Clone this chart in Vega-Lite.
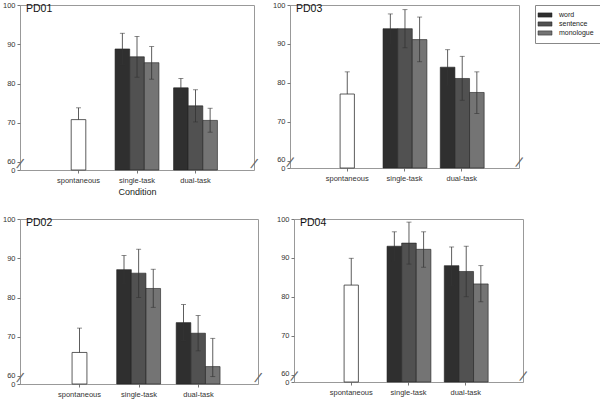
{
  "$schema": "https://vega.github.io/schema/vega-lite/v6.json",
  "padding": {"left": 1, "top": 0, "right": 2, "bottom": 2},
  "datasets": {
    "d": [
      {"p": "PD01", "c": "spontaneous", "t": "none", "m": 70.8, "lo": null, "hi": 73.8},
      {"p": "PD01", "c": "single-task", "t": "word", "m": 88.8, "lo": 84.8, "hi": 92.8},
      {"p": "PD01", "c": "single-task", "t": "sentence", "m": 86.8, "lo": 81.6, "hi": 92.0},
      {"p": "PD01", "c": "single-task", "t": "monologue", "m": 85.3, "lo": 81.1, "hi": 89.4},
      {"p": "PD01", "c": "dual-task", "t": "word", "m": 78.9, "lo": 76.4, "hi": 81.3},
      {"p": "PD01", "c": "dual-task", "t": "sentence", "m": 74.3, "lo": 70.2, "hi": 78.4},
      {"p": "PD01", "c": "dual-task", "t": "monologue", "m": 70.6, "lo": 67.6, "hi": 73.7},
      {"p": "PD03", "c": "spontaneous", "t": "none", "m": 77.1, "lo": null, "hi": 82.8},
      {"p": "PD03", "c": "single-task", "t": "word", "m": 93.9, "lo": 90.0, "hi": 97.7},
      {"p": "PD03", "c": "single-task", "t": "sentence", "m": 93.9, "lo": 89.0, "hi": 98.8},
      {"p": "PD03", "c": "single-task", "t": "monologue", "m": 91.1, "lo": 85.4, "hi": 96.9},
      {"p": "PD03", "c": "dual-task", "t": "word", "m": 84.0, "lo": 79.4, "hi": 88.5},
      {"p": "PD03", "c": "dual-task", "t": "sentence", "m": 81.1, "lo": 75.5, "hi": 86.8},
      {"p": "PD03", "c": "dual-task", "t": "monologue", "m": 77.5, "lo": 72.1, "hi": 82.8},
      {"p": "PD02", "c": "spontaneous", "t": "none", "m": 66.0, "lo": null, "hi": 72.2},
      {"p": "PD02", "c": "single-task", "t": "word", "m": 87.1, "lo": 83.6, "hi": 90.7},
      {"p": "PD02", "c": "single-task", "t": "sentence", "m": 86.2, "lo": 80.0, "hi": 92.3},
      {"p": "PD02", "c": "single-task", "t": "monologue", "m": 82.3, "lo": 77.5, "hi": 87.2},
      {"p": "PD02", "c": "dual-task", "t": "word", "m": 73.6, "lo": 69.0, "hi": 78.2},
      {"p": "PD02", "c": "dual-task", "t": "sentence", "m": 70.9, "lo": 66.4, "hi": 75.4},
      {"p": "PD02", "c": "dual-task", "t": "monologue", "m": 62.4, "lo": 55.2, "hi": 69.6},
      {"p": "PD04", "c": "spontaneous", "t": "none", "m": 83.0, "lo": null, "hi": 89.9},
      {"p": "PD04", "c": "single-task", "t": "word", "m": 93.0, "lo": 89.2, "hi": 96.7},
      {"p": "PD04", "c": "single-task", "t": "sentence", "m": 93.8, "lo": 88.4, "hi": 99.2},
      {"p": "PD04", "c": "single-task", "t": "monologue", "m": 92.2, "lo": 87.6, "hi": 96.7},
      {"p": "PD04", "c": "dual-task", "t": "word", "m": 88.0, "lo": 82.8, "hi": 92.8},
      {"p": "PD04", "c": "dual-task", "t": "sentence", "m": 86.5, "lo": 80.0, "hi": 93.0},
      {"p": "PD04", "c": "dual-task", "t": "monologue", "m": 83.3, "lo": 78.7, "hi": 88.0}
    ],
    "brk": [{"bx": 0}, {"bx": 1}]
  },
  "data": {"name": "d"},
  "vconcat": [
    {
      "hconcat": [
        {
          "width": 234, "height": 165,
          "title": {"text": "PD01"},
          "layer": [
            {
              "transform": [{"filter": "datum.p == 'PD01'"}],
              "encoding": {"x": {"field": "c", "type": "nominal", "scale": {"domain": ["spontaneous", "single-task", "dual-task"], "paddingInner": 0.25, "paddingOuter": 0.625}, "axis": {"title": "Condition"}}},
              "layer": [
                {"transform": [{"filter": "datum.c != 'spontaneous'"}], "mark": {"type": "bar", "stroke": "#1e1e1e", "strokeWidth": 0.6},
                 "encoding": {"xOffset": {"field": "t", "type": "nominal", "scale": {"domain": ["word", "sentence", "monologue"]}},
                  "y": {"field": "m", "type": "quantitative", "scale": {"domain": [0, 60, 100], "range": [165, 157, 0], "nice": false, "zero": false}, "axis": {"values": [0, 60, 70, 80, 90, 100], "tickCount": 12, "labelOverlap": false, "labelOffset": {"condition": [{"test": "datum.value == 0", "value": 0.5}, {"test": "datum.value == 60", "value": -1}], "value": 0}}},
                  "color": {"field": "t", "type": "nominal", "scale": {"domain": ["word", "sentence", "monologue"], "range": ["#2f2f2f", "#515151", "#747474"]}, "legend": {"title": null}}}},
                {"transform": [{"filter": "datum.c == 'spontaneous'"}], "mark": {"type": "bar", "fill": "white", "stroke": "#333", "strokeWidth": 0.8, "width": {"band": 0.3333}}, "encoding": {"y": {"field": "m", "type": "quantitative"}}},
                {"transform": [{"filter": "datum.c != 'spontaneous'"}], "mark": {"type": "rule", "color": "#333", "strokeWidth": 0.8}, "encoding": {"xOffset": {"field": "t", "type": "nominal"}, "y": {"field": "lo", "type": "quantitative"}, "y2": {"field": "hi"}}},
                {"transform": [{"filter": "datum.c != 'spontaneous'"}], "mark": {"type": "tick", "color": "#333", "size": 5, "thickness": 0.8}, "encoding": {"xOffset": {"field": "t", "type": "nominal"}, "y": {"field": "lo", "type": "quantitative"}}},
                {"transform": [{"filter": "datum.c != 'spontaneous'"}], "mark": {"type": "tick", "color": "#333", "size": 5, "thickness": 0.8}, "encoding": {"xOffset": {"field": "t", "type": "nominal"}, "y": {"field": "hi", "type": "quantitative"}}},
                {"transform": [{"filter": "datum.c == 'spontaneous'"}], "mark": {"type": "rule", "color": "#333", "strokeWidth": 0.8}, "encoding": {"y": {"field": "m", "type": "quantitative"}, "y2": {"field": "hi"}}},
                {"transform": [{"filter": "datum.c == 'spontaneous'"}], "mark": {"type": "tick", "color": "#333", "size": 5, "thickness": 0.8}, "encoding": {"y": {"field": "hi", "type": "quantitative"}}}
              ]
            },
            {"data": {"name": "brk"}, "mark": {"type": "text", "text": "/", "fontSize": 15, "angle": 22, "color": "#666"}, "encoding": {"x": {"field": "bx", "type": "quantitative", "scale": {"domain": [0, 1]}, "axis": null}, "y": {"datum": 45, "type": "quantitative"}}}
          ],
          "resolve": {"scale": {"x": "independent"}}
        },
        {
          "width": 229, "height": 163,
          "title": {"text": "PD03"},
          "layer": [
            {
              "transform": [{"filter": "datum.p == 'PD03'"}],
              "encoding": {"x": {"field": "c", "type": "nominal", "scale": {"domain": ["spontaneous", "single-task", "dual-task"], "paddingInner": 0.25, "paddingOuter": 0.625}}},
              "layer": [
                {"transform": [{"filter": "datum.c != 'spontaneous'"}], "mark": {"type": "bar", "stroke": "#1e1e1e", "strokeWidth": 0.6},
                 "encoding": {"xOffset": {"field": "t", "type": "nominal", "scale": {"domain": ["word", "sentence", "monologue"]}},
                  "y": {"field": "m", "type": "quantitative", "scale": {"domain": [0, 60, 100], "range": [163, 155.5, 0], "nice": false, "zero": false}, "axis": {"values": [0, 60, 70, 80, 90, 100], "tickCount": 12, "labelOverlap": false, "labelOffset": {"condition": [{"test": "datum.value == 0", "value": 0.5}, {"test": "datum.value == 60", "value": -1}], "value": 0}}},
                  "color": {"field": "t", "type": "nominal", "scale": {"domain": ["word", "sentence", "monologue"], "range": ["#2f2f2f", "#515151", "#747474"]}, "legend": {"title": null}}}},
                {"transform": [{"filter": "datum.c == 'spontaneous'"}], "mark": {"type": "bar", "fill": "white", "stroke": "#333", "strokeWidth": 0.8, "width": {"band": 0.3333}}, "encoding": {"y": {"field": "m", "type": "quantitative"}}},
                {"transform": [{"filter": "datum.c != 'spontaneous'"}], "mark": {"type": "rule", "color": "#333", "strokeWidth": 0.8}, "encoding": {"xOffset": {"field": "t", "type": "nominal"}, "y": {"field": "lo", "type": "quantitative"}, "y2": {"field": "hi"}}},
                {"transform": [{"filter": "datum.c != 'spontaneous'"}], "mark": {"type": "tick", "color": "#333", "size": 5, "thickness": 0.8}, "encoding": {"xOffset": {"field": "t", "type": "nominal"}, "y": {"field": "lo", "type": "quantitative"}}},
                {"transform": [{"filter": "datum.c != 'spontaneous'"}], "mark": {"type": "tick", "color": "#333", "size": 5, "thickness": 0.8}, "encoding": {"xOffset": {"field": "t", "type": "nominal"}, "y": {"field": "hi", "type": "quantitative"}}},
                {"transform": [{"filter": "datum.c == 'spontaneous'"}], "mark": {"type": "rule", "color": "#333", "strokeWidth": 0.8}, "encoding": {"y": {"field": "m", "type": "quantitative"}, "y2": {"field": "hi"}}},
                {"transform": [{"filter": "datum.c == 'spontaneous'"}], "mark": {"type": "tick", "color": "#333", "size": 5, "thickness": 0.8}, "encoding": {"y": {"field": "hi", "type": "quantitative"}}}
              ]
            },
            {"data": {"name": "brk"}, "mark": {"type": "text", "text": "/", "fontSize": 15, "angle": 22, "color": "#666"}, "encoding": {"x": {"field": "bx", "type": "quantitative", "scale": {"domain": [0, 1]}, "axis": null}, "y": {"datum": 45, "type": "quantitative"}}}
          ],
          "resolve": {"scale": {"x": "independent"}}
        }
      ]
    },
    {
      "hconcat": [
        {
          "width": 238, "height": 165,
          "title": {"text": "PD02"},
          "layer": [
            {
              "transform": [{"filter": "datum.p == 'PD02'"}],
              "encoding": {"x": {"field": "c", "type": "nominal", "scale": {"domain": ["spontaneous", "single-task", "dual-task"], "paddingInner": 0.25, "paddingOuter": 0.625}}},
              "layer": [
                {"transform": [{"filter": "datum.c != 'spontaneous'"}], "mark": {"type": "bar", "stroke": "#1e1e1e", "strokeWidth": 0.6},
                 "encoding": {"xOffset": {"field": "t", "type": "nominal", "scale": {"domain": ["word", "sentence", "monologue"]}},
                  "y": {"field": "m", "type": "quantitative", "scale": {"domain": [0, 60, 100], "range": [165, 157, 0], "nice": false, "zero": false}, "axis": {"values": [0, 60, 70, 80, 90, 100], "tickCount": 12, "labelOverlap": false, "labelOffset": {"condition": [{"test": "datum.value == 0", "value": 0.5}, {"test": "datum.value == 60", "value": -1}], "value": 0}}},
                  "color": {"field": "t", "type": "nominal", "scale": {"domain": ["word", "sentence", "monologue"], "range": ["#2f2f2f", "#515151", "#747474"]}, "legend": {"title": null}}}},
                {"transform": [{"filter": "datum.c == 'spontaneous'"}], "mark": {"type": "bar", "fill": "white", "stroke": "#333", "strokeWidth": 0.8, "width": {"band": 0.3333}}, "encoding": {"y": {"field": "m", "type": "quantitative"}}},
                {"transform": [{"filter": "datum.c != 'spontaneous'"}], "mark": {"type": "rule", "color": "#333", "strokeWidth": 0.8}, "encoding": {"xOffset": {"field": "t", "type": "nominal"}, "y": {"field": "lo", "type": "quantitative"}, "y2": {"field": "hi"}}},
                {"transform": [{"filter": "datum.c != 'spontaneous'"}], "mark": {"type": "tick", "color": "#333", "size": 5, "thickness": 0.8}, "encoding": {"xOffset": {"field": "t", "type": "nominal"}, "y": {"field": "lo", "type": "quantitative"}}},
                {"transform": [{"filter": "datum.c != 'spontaneous'"}], "mark": {"type": "tick", "color": "#333", "size": 5, "thickness": 0.8}, "encoding": {"xOffset": {"field": "t", "type": "nominal"}, "y": {"field": "hi", "type": "quantitative"}}},
                {"transform": [{"filter": "datum.c == 'spontaneous'"}], "mark": {"type": "rule", "color": "#333", "strokeWidth": 0.8}, "encoding": {"y": {"field": "m", "type": "quantitative"}, "y2": {"field": "hi"}}},
                {"transform": [{"filter": "datum.c == 'spontaneous'"}], "mark": {"type": "tick", "color": "#333", "size": 5, "thickness": 0.8}, "encoding": {"y": {"field": "hi", "type": "quantitative"}}}
              ]
            },
            {"data": {"name": "brk"}, "mark": {"type": "text", "text": "/", "fontSize": 15, "angle": 22, "color": "#666"}, "encoding": {"x": {"field": "bx", "type": "quantitative", "scale": {"domain": [0, 1]}, "axis": null}, "y": {"datum": 45, "type": "quantitative"}}}
          ],
          "resolve": {"scale": {"x": "independent"}}
        },
        {
          "width": 229, "height": 163,
          "title": {"text": "PD04"},
          "layer": [
            {
              "transform": [{"filter": "datum.p == 'PD04'"}],
              "encoding": {"x": {"field": "c", "type": "nominal", "scale": {"domain": ["spontaneous", "single-task", "dual-task"], "paddingInner": 0.25, "paddingOuter": 0.625}}},
              "layer": [
                {"transform": [{"filter": "datum.c != 'spontaneous'"}], "mark": {"type": "bar", "stroke": "#1e1e1e", "strokeWidth": 0.6},
                 "encoding": {"xOffset": {"field": "t", "type": "nominal", "scale": {"domain": ["word", "sentence", "monologue"]}},
                  "y": {"field": "m", "type": "quantitative", "scale": {"domain": [0, 60, 100], "range": [163, 155.5, 0], "nice": false, "zero": false}, "axis": {"values": [0, 60, 70, 80, 90, 100], "tickCount": 12, "labelOverlap": false, "labelOffset": {"condition": [{"test": "datum.value == 0", "value": 0.5}, {"test": "datum.value == 60", "value": -1}], "value": 0}}},
                  "color": {"field": "t", "type": "nominal", "scale": {"domain": ["word", "sentence", "monologue"], "range": ["#2f2f2f", "#515151", "#747474"]}, "legend": {"title": null}}}},
                {"transform": [{"filter": "datum.c == 'spontaneous'"}], "mark": {"type": "bar", "fill": "white", "stroke": "#333", "strokeWidth": 0.8, "width": {"band": 0.3333}}, "encoding": {"y": {"field": "m", "type": "quantitative"}}},
                {"transform": [{"filter": "datum.c != 'spontaneous'"}], "mark": {"type": "rule", "color": "#333", "strokeWidth": 0.8}, "encoding": {"xOffset": {"field": "t", "type": "nominal"}, "y": {"field": "lo", "type": "quantitative"}, "y2": {"field": "hi"}}},
                {"transform": [{"filter": "datum.c != 'spontaneous'"}], "mark": {"type": "tick", "color": "#333", "size": 5, "thickness": 0.8}, "encoding": {"xOffset": {"field": "t", "type": "nominal"}, "y": {"field": "lo", "type": "quantitative"}}},
                {"transform": [{"filter": "datum.c != 'spontaneous'"}], "mark": {"type": "tick", "color": "#333", "size": 5, "thickness": 0.8}, "encoding": {"xOffset": {"field": "t", "type": "nominal"}, "y": {"field": "hi", "type": "quantitative"}}},
                {"transform": [{"filter": "datum.c == 'spontaneous'"}], "mark": {"type": "rule", "color": "#333", "strokeWidth": 0.8}, "encoding": {"y": {"field": "m", "type": "quantitative"}, "y2": {"field": "hi"}}},
                {"transform": [{"filter": "datum.c == 'spontaneous'"}], "mark": {"type": "tick", "color": "#333", "size": 5, "thickness": 0.8}, "encoding": {"y": {"field": "hi", "type": "quantitative"}}}
              ]
            },
            {"data": {"name": "brk"}, "mark": {"type": "text", "text": "/", "fontSize": 15, "angle": 22, "color": "#666"}, "encoding": {"x": {"field": "bx", "type": "quantitative", "scale": {"domain": [0, 1]}, "axis": null}, "y": {"datum": 45, "type": "quantitative"}}}
          ],
          "resolve": {"scale": {"x": "independent"}}
        }
      ]
    }
  ],
  "spacing": 17,
  "config": {
    "font": "Liberation Sans",
    "view": {"stroke": "#999"},
    "concat": {"spacing": 11},
    "title": {"anchor": "start", "frame": "group", "orient": "top", "offset": -13, "dx": 6, "baseline": "alphabetic", "fontSize": 10.5, "fontWeight": "normal", "color": "#111"},
    "axis": {"grid": false, "domain": false, "labelColor": "#333", "labelFontSize": 7.5, "tickColor": "#777", "tickSize": 3, "title": null},
    "axisY": {"labelPadding": 2},
    "axisX": {"labelAngle": 0, "labelPadding": 3, "titleFontSize": 9, "titleFontWeight": "normal", "titleColor": "#222", "titlePadding": 4},
    "legend": {"orient": "right", "offset": 6, "title": null, "labelFontSize": 7, "labelColor": "#222", "symbolType": "M-2,-0.6H2V0.6H-2Z", "symbolSize": 49, "symbolStrokeColor": "#222", "symbolStrokeWidth": 0.5, "strokeColor": "#888", "padding": 6, "rowPadding": 1, "labelOffset": 10, "fillColor": "white"}
  }
}
